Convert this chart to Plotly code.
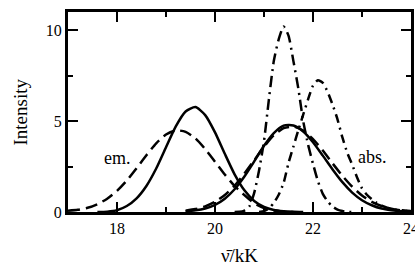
import plotly.graph_objects as go

# emission, solid
em_solid_x = [17.6, 17.8, 18.0, 18.2, 18.4, 18.6, 18.8, 19.0, 19.2, 19.4, 19.6, 19.8, 20.0, 20.2, 20.4, 20.6, 20.8, 21.0, 21.2, 21.4, 21.6, 21.8]
em_solid_y = [0.0, 0.02, 0.1, 0.33, 0.75, 1.43, 2.39, 3.56, 4.71, 5.53, 5.77, 5.33, 4.38, 3.2, 2.07, 1.19, 0.61, 0.28, 0.11, 0.04, 0.01, 0.0]

# emission, dashed
em_dash_x = [17.0, 17.2, 17.4, 17.6, 17.8, 18.0, 18.2, 18.4, 18.6, 18.8, 19.0, 19.2, 19.4, 19.6, 19.8, 20.0, 20.2, 20.4, 20.6, 20.8, 21.0, 21.2, 21.4, 21.6]
em_dash_y = [0.07, 0.12, 0.23, 0.43, 0.73, 1.16, 1.73, 2.41, 3.12, 3.78, 4.26, 4.49, 4.41, 4.05, 3.46, 2.77, 2.06, 1.43, 0.93, 0.48, 0.22, 0.08, 0.02, 0.0]

# absorption, solid
abs_solid_x = [19.4, 19.6, 19.8, 20.0, 20.2, 20.4, 20.6, 20.8, 21.0, 21.2, 21.4, 21.6, 21.8, 22.0, 22.2, 22.4, 22.6, 22.8, 23.0, 23.2, 23.4, 23.6, 23.8, 24.0]
abs_solid_y = [0.04, 0.09, 0.19, 0.39, 0.73, 1.25, 1.95, 2.78, 3.64, 4.34, 4.75, 4.76, 4.43, 3.84, 3.1, 2.34, 1.64, 1.07, 0.65, 0.37, 0.19, 0.1, 0.04, 0.02]

# absorption, dashed
abs_dash_x = [19.4, 19.6, 19.8, 20.0, 20.2, 20.4, 20.6, 20.8, 21.0, 21.2, 21.4, 21.6, 21.8, 22.0, 22.2, 22.4, 22.6, 22.8, 23.0, 23.2, 23.4, 23.6, 23.8, 24.0]
abs_dash_y = [0.07, 0.16, 0.31, 0.56, 0.93, 1.45, 2.11, 2.85, 3.59, 4.22, 4.61, 4.7, 4.48, 4.01, 3.38, 2.67, 1.99, 1.39, 0.91, 0.56, 0.33, 0.18, 0.09, 0.04]

# absorption, dash-dot (tall)
abs_dd1_x = [20.4, 20.5, 20.6, 20.7, 20.8, 20.9, 21.0, 21.1, 21.2, 21.3, 21.4, 21.5, 21.6, 21.7, 21.8, 21.9, 22.0, 22.1, 22.2, 22.3, 22.4, 22.5, 22.6, 22.7, 22.8]
abs_dd1_y = [0.0, 0.01, 0.08, 0.3, 1.05, 2.3, 3.9, 6.2, 8.3, 9.5, 10.2, 9.7, 8.3, 6.8, 5.0, 3.7, 2.65, 1.7, 1.0, 0.58, 0.3, 0.13, 0.05, 0.01, 0.0]

# absorption, dash-dot (second)
abs_dd2_x = [20.9, 21.0, 21.1, 21.2, 21.3, 21.4, 21.5, 21.6, 21.7, 21.8, 21.9, 22.0, 22.1, 22.2, 22.3, 22.4, 22.5, 22.6, 22.7, 22.8, 22.9, 23.0, 23.1, 23.2, 23.3, 23.4, 23.5, 23.6, 23.7, 23.8, 23.9, 24.0]
abs_dd2_y = [0.0, 0.05, 0.2, 0.5, 0.95, 1.6, 2.7, 3.6, 4.5, 5.35, 6.2, 6.95, 7.25, 7.1, 6.6, 5.9, 5.1, 4.1, 3.25, 2.6, 1.9, 1.3, 0.95, 0.7, 0.5, 0.35, 0.25, 0.18, 0.13, 0.1, 0.07, 0.05]

x_tickvals = [18, 20, 22, 24]
y_tickvals = [0, 5, 10]

FONT = "Liberation Serif, Times New Roman, serif"
fig = go.Figure()

def add(x, y, dash):
    fig.add_trace(go.Scatter(x=x, y=y, mode="lines",
                             line=dict(color="black", width=2.5, dash=dash, shape="spline", smoothing=0.6),
                             showlegend=False, hoverinfo="skip"))

add(em_solid_x, em_solid_y, "solid")
add(em_dash_x, em_dash_y, "12px,6px")
add(abs_solid_x, abs_solid_y, "solid")
add(abs_dash_x, abs_dash_y, "12px,6px")
add(abs_dd1_x, abs_dd1_y, "11px,5px,2px,5px")
add(abs_dd2_x, abs_dd2_y, "9px,5px,2px,5px")

axis_common = dict(showline=True, linecolor="black", linewidth=3, mirror="ticks",
                   ticks="inside", tickcolor="black", tickwidth=2, ticklen=10,
                   showgrid=False, zeroline=False, automargin=False,
                   ticklabeloverflow="allow",
                   tickfont=dict(family=FONT, size=16, color="black"))

fig.update_xaxes(range=[17, 24], tickvals=x_tickvals, ticktext=[str(v) for v in x_tickvals],
                 minor=dict(tickvals=[19, 21, 23], ticks="inside", ticklen=5, tickwidth=2, tickcolor="black"),
                 **axis_common)
fig.update_yaxes(range=[0, 11], tickvals=y_tickvals, ticktext=[str(v) for v in y_tickvals],
                 minor=dict(tickvals=[2.5, 7.5], ticks="inside", ticklen=5, tickwidth=2, tickcolor="black"),
                 **axis_common)

fig.add_annotation(x=18.01, y=2.95, xref="x", yref="y", text="em.", showarrow=False,
                   xanchor="center", yanchor="middle",
                   font=dict(family=FONT, size=18, color="black"))
fig.add_annotation(x=23.21, y=3.0, xref="x", yref="y", text="abs.", showarrow=False,
                   xanchor="center", yanchor="middle",
                   font=dict(family=FONT, size=18, color="black"))
fig.add_annotation(x=-0.1385, y=0.5, xref="paper", yref="paper", text="Intensity", textangle=-90,
                   xanchor="center", yanchor="middle", showarrow=False,
                   font=dict(family=FONT, size=19, color="black"))
fig.add_annotation(x=0.5, y=-0.215, xref="paper", yref="paper", text="\u03bd\u0304/kK",
                   xanchor="center", yanchor="middle", showarrow=False,
                   font=dict(family=FONT, size=19, color="black"))

fig.update_layout(width=415, height=268, margin=dict(l=68, r=4, t=12, b=56),
                  paper_bgcolor="white", plot_bgcolor="white")

fig.write_html("out.html", config={"displayModeBar": False},
               post_script="document.body.style.margin='0';document.body.style.overflow='hidden';")
